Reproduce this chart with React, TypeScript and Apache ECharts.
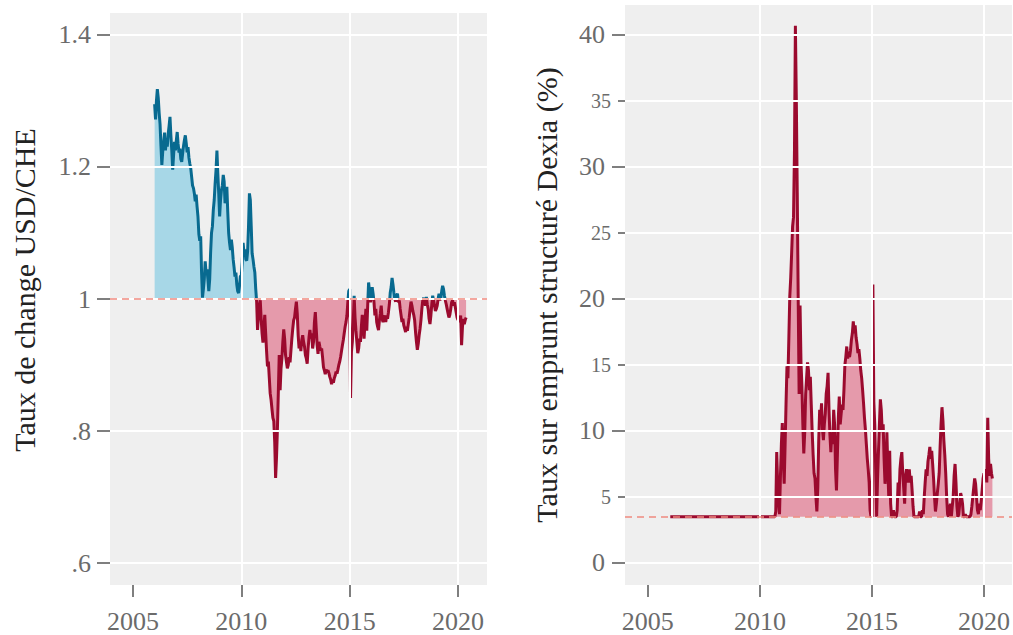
import React, { useEffect, useRef } from "react";
import * as echarts from "echarts";

// ---------- data (semi-monthly readings, 24 per year) ----------
const stepsPerYear = 24;
const fxYears = [2006, 2007, 2008, 2009, 2010, 2011, 2012, 2013, 2014, 2015, 2016, 2017, 2018, 2019, 2020];
const fx2006 = [1.295, 1.272, 1.300, 1.318, 1.305, 1.282, 1.265, 1.232, 1.203, 1.224, 1.238, 1.252, 1.225, 1.242, 1.231, 1.250, 1.262, 1.276, 1.248, 1.225, 1.196, 1.218, 1.238, 1.225];
const fx2007 = [1.240, 1.253, 1.235, 1.222, 1.228, 1.212, 1.208, 1.220, 1.232, 1.241, 1.248, 1.236, 1.222, 1.230, 1.214, 1.205, 1.198, 1.185, 1.172, 1.168, 1.160, 1.148, 1.158, 1.140];
const fx2008 = [1.125, 1.098, 1.088, 1.095, 1.040, 1.002, 1.015, 1.030, 1.057, 1.040, 1.045, 1.030, 1.012, 1.030, 1.070, 1.100, 1.110, 1.135, 1.150, 1.175, 1.195, 1.225, 1.190, 1.160];
const fx2009 = [1.125, 1.150, 1.165, 1.172, 1.188, 1.178, 1.145, 1.160, 1.170, 1.132, 1.100, 1.085, 1.074, 1.090, 1.078, 1.060, 1.048, 1.034, 1.040, 1.022, 1.012, 1.009, 1.020, 1.035];
const fx2010 = [1.035, 1.055, 1.085, 1.070, 1.075, 1.060, 1.058, 1.072, 1.110, 1.160, 1.150, 1.110, 1.069, 1.060, 1.049, 1.040, 1.015, 0.996, 0.953, 0.975, 0.990, 0.998, 0.970, 0.948];
const fx2011 = [0.934, 0.957, 0.976, 0.948, 0.921, 0.898, 0.905, 0.881, 0.857, 0.847, 0.833, 0.820, 0.815, 0.784, 0.729, 0.760, 0.803, 0.858, 0.915, 0.862, 0.895, 0.910, 0.935, 0.954];
const fx2012 = [0.940, 0.915, 0.905, 0.895, 0.900, 0.912, 0.904, 0.922, 0.940, 0.955, 0.968, 0.972, 0.985, 0.996, 0.978, 0.945, 0.925, 0.932, 0.921, 0.938, 0.945, 0.935, 0.928, 0.915];
const fx2013 = [0.910, 0.902, 0.925, 0.942, 0.953, 0.940, 0.948, 0.925, 0.935, 0.965, 0.980, 0.955, 0.930, 0.917, 0.935, 0.928, 0.922, 0.925, 0.912, 0.897, 0.892, 0.886, 0.893, 0.890];
const fx2014 = [0.892, 0.888, 0.882, 0.878, 0.871, 0.878, 0.873, 0.880, 0.884, 0.890, 0.887, 0.893, 0.900, 0.905, 0.912, 0.921, 0.930, 0.938, 0.948, 0.958, 0.965, 0.975, 0.995, 1.012];
const fx2015 = [1.015, 0.850, 0.920, 0.935, 0.965, 1.005, 0.972, 0.952, 0.935, 0.918, 0.925, 0.940, 0.935, 0.958, 0.976, 0.965, 0.940, 0.965, 0.985, 0.952, 0.990, 1.025, 1.012, 0.995];
const fx2016 = [1.005, 1.018, 1.008, 0.995, 0.975, 0.985, 0.965, 0.958, 0.953, 0.968, 0.978, 0.990, 0.970, 0.965, 0.972, 0.975, 0.965, 0.975, 0.970, 0.980, 0.992, 1.010, 1.018, 1.032];
const fx2017 = [1.022, 1.010, 1.000, 0.996, 1.005, 1.008, 0.995, 0.998, 0.985, 0.975, 0.965, 0.970, 0.960, 0.955, 0.950, 0.958, 0.952, 0.962, 0.972, 0.985, 0.996, 0.990, 0.982, 0.976];
const fx2018 = [0.968, 0.950, 0.935, 0.923, 0.932, 0.945, 0.955, 0.968, 0.985, 0.998, 1.002, 0.995, 0.990, 1.003, 0.992, 0.985, 0.970, 0.962, 0.975, 0.992, 1.005, 0.998, 0.990, 0.982];
const fx2019 = [0.985, 0.990, 1.000, 1.008, 0.998, 1.002, 1.012, 1.020, 1.015, 1.005, 0.998, 0.992, 0.985, 0.978, 0.972, 0.976, 0.985, 0.995, 0.998, 0.990, 0.995, 0.988, 0.980, 0.972];
const fx2020 = [0.968, 0.972, 0.965, 0.975, 0.930, 0.958, 0.970, 0.962, 0.968, 0.972];
const fxByYear = [fx2006, fx2007, fx2008, fx2009, fx2010, fx2011, fx2012, fx2013, fx2014, fx2015, fx2016, fx2017, fx2018, fx2019, fx2020];

const rateFlatStart = 2006;
const rateBase = 3.5;
const rateYears = [2010, 2011, 2012, 2013, 2014, 2015, 2016, 2017, 2018, 2019, 2020];
const rate2010 = [3.5, 3.5, 3.5, 3.5, 3.5, 3.5, 3.5, 3.5, 3.5, 3.5, 3.5, 3.5, 3.5, 3.5, 3.5, 3.5, 3.5, 3.9, 8.4, 6.1, 4.5, 3.7, 6.6, 9.0];
const rate2011 = [10.6, 8.0, 6.0, 9.0, 12.1, 14.9, 14.0, 17.0, 20.2, 21.6, 23.5, 25.5, 26.2, 31.1, 40.7, 35.1, 28.0, 20.1, 12.8, 19.5, 15.2, 13.4, 10.5, 8.3];
const rate2012 = [9.9, 12.8, 14.0, 15.2, 14.6, 13.1, 14.1, 12.0, 9.9, 8.2, 6.8, 6.4, 5.0, 3.9, 5.7, 9.3, 11.6, 10.8, 12.1, 10.1, 9.3, 10.5, 11.3, 12.8];
const rate2013 = [13.4, 14.4, 11.6, 9.7, 8.4, 9.9, 9.0, 11.6, 10.5, 7.1, 5.5, 8.2, 11.0, 12.6, 10.5, 11.3, 12.0, 11.6, 13.1, 15.0, 15.6, 16.4, 15.5, 15.9];
const rate2014 = [15.6, 16.1, 16.9, 17.4, 18.3, 17.4, 18.0, 17.1, 16.6, 15.9, 16.2, 15.5, 14.6, 14.0, 13.1, 12.1, 11.0, 10.1, 9.0, 7.9, 7.1, 6.1, 4.0, 3.5];
const rate2015 = [3.5, 21.1, 12.2, 10.5, 7.1, 3.5, 6.4, 8.5, 10.5, 12.4, 11.6, 9.9, 10.5, 7.9, 6.0, 7.1, 9.9, 7.1, 5.0, 8.5, 4.5, 3.5, 3.5, 4.0];
const rate2016 = [3.5, 3.5, 3.5, 4.0, 6.1, 5.0, 7.1, 7.9, 8.4, 6.8, 5.7, 4.5, 6.6, 7.1, 6.4, 6.1, 7.1, 6.1, 6.6, 5.5, 4.3, 3.5, 3.5, 3.5];
const rate2017 = [3.5, 3.5, 3.5, 3.9, 3.5, 3.5, 4.0, 3.7, 5.0, 6.1, 7.1, 6.6, 7.7, 8.2, 8.8, 7.9, 8.5, 7.5, 6.4, 5.0, 3.9, 4.5, 5.3, 6.0];
const rate2018 = [6.8, 8.8, 10.5, 11.8, 10.8, 9.3, 8.2, 6.8, 5.0, 3.7, 3.5, 4.0, 4.5, 3.5, 4.3, 5.0, 6.6, 7.5, 6.1, 4.3, 3.5, 3.7, 4.5, 5.3];
const rate2019 = [5.0, 4.5, 3.5, 3.5, 3.7, 3.5, 3.5, 3.5, 3.5, 3.5, 3.7, 4.3, 5.0, 5.7, 6.4, 6.0, 5.0, 4.0, 3.7, 4.5, 4.0, 4.7, 5.5, 6.4];
const rate2020 = [6.8, 6.4, 7.1, 6.1, 11.0, 7.9, 6.6, 7.5, 6.8, 6.4];
const rateByYear = [rate2010, rate2011, rate2012, rate2013, rate2014, rate2015, rate2016, rate2017, rate2018, rate2019, rate2020];

const fxThreshold = 1;
const yearTicks = [2005, 2010, 2015, 2020];
const yearGrid = [2010, 2015, 2020];
const fxTickValues = [0.6, 0.8, 1, 1.2, 1.4];
const fxTickLabels = [".6", ".8", "1", "1.2", "1.4"];
const rateMajorTicks = [0, 10, 20, 30, 40];
const rateMinorTicks = [5, 15, 25, 35];
const rateAllTicks = [0, 5, 10, 15, 20, 25, 30, 35, 40];

const leftTitle = "Taux de change USD/CHE";
const rightTitle = "Taux sur emprunt structuré Dexia (%)";

// ---------- styles ----------
const FONT = "'Liberation Serif', 'Times New Roman', Times, serif";
const BLUE = "#086a90";
const LIGHTBLUE = "#a7d7e7";
const RED = "#9b0a2e";
const PINK = "#e59aab";
const SALMON = "#f08a80";
const BG = "#efefef";
const TICKLABEL = "#6b6b6b";

export default function App() {
  const ref = useRef<HTMLDivElement>(null);

  useEffect(() => {
    document.body.style.margin = "0";
    if (!ref.current) return;
    const chart = echarts.init(ref.current, undefined, { renderer: "svg" });

    const fxData: number[][] = [];
    fxByYear.forEach((arr, k) => arr.forEach((v, i) => fxData.push([fxYears[k] + i / stepsPerYear, v])));
    const fxUp = fxData.map(([x, v]) => [x, Math.max(v, fxThreshold)]);
    const fxDown = fxData.map(([x, v]) => [x, Math.min(v, fxThreshold)]);

    const rateData: number[][] = [[rateFlatStart, rateBase]];
    rateByYear.forEach((arr, k) => arr.forEach((v, i) => rateData.push([rateYears[k] + i / stepsPerYear, v])));

    const labelStyle = (size: number, margin: number) => ({
      fontSize: size,
      fontFamily: FONT,
      fontWeight: "normal",
      color: TICKLABEL,
      margin,
    });

    const xAxisBase = (gridIndex: number, min: number, max: number) => ({
      type: "value",
      gridIndex,
      min,
      max,
      axisLine: { show: false, onZero: false },
      splitLine: { show: false },
      axisTick: { show: true, customValues: yearTicks, length: 12, lineStyle: { color: "#555", width: 1.5 } },
      axisLabel: {
        customValues: yearTicks,
        ...labelStyle(26, 23),
        formatter: (v: number) => String(Math.round(v)),
      },
    });

    const gridMarks = (xs: number[], ys: number[]) => ({
      silent: true,
      symbol: ["none", "none"],
      label: { show: false },
      lineStyle: { color: "#ffffff", width: 2, type: "solid" },
      data: [...xs.map((x) => ({ xAxis: x })), ...ys.map((y) => ({ yAxis: y }))],
    });

    const dashed = (y: number) => ({
      silent: true,
      symbol: ["none", "none"],
      label: { show: false },
      lineStyle: { color: SALMON, width: 1.5, type: [7, 5] },
      data: [{ yAxis: y }],
    });

    const yBase = {
      type: "value",
      axisLine: { show: false, onZero: false },
      splitLine: { show: false },
    };

    const helper = (xi: number, pt: number[], z: number, markLine: any) => ({
      type: "line",
      xAxisIndex: xi,
      yAxisIndex: xi,
      data: [pt],
      z,
      silent: true,
      symbol: "none",
      showSymbol: false,
      lineStyle: { opacity: 0 },
      markLine,
    });

    chart.setOption({
      animation: false,
      textStyle: { fontFamily: FONT },
      grid: [
        { left: 110, top: 13, width: 377, height: 572, show: true, backgroundColor: BG, borderWidth: 0 },
        { left: 625, top: 5, width: 388, height: 580, show: true, backgroundColor: BG, borderWidth: 0 },
      ],
      xAxis: [xAxisBase(0, 2003.94, 2021.34), xAxisBase(1, 2003.98, 2021.25)],
      yAxis: [
        {
          ...yBase,
          gridIndex: 0,
          min: 0.5667,
          max: 1.4333,
          axisTick: { show: true, customValues: fxTickValues, length: 13, lineStyle: { color: "#555", width: 1.5 } },
          axisLabel: {
            customValues: fxTickValues,
            ...labelStyle(26, 19),
            formatter: (v: number) => {
              let best = 0;
              fxTickValues.forEach((t, i) => {
                if (Math.abs(t - v) < Math.abs(fxTickValues[best] - v)) best = i;
              });
              return fxTickLabels[best];
            },
          },
        },
        {
          ...yBase,
          gridIndex: 1,
          min: -1.667,
          max: 42.27,
          position: "left",
          axisTick: { show: true, customValues: rateMajorTicks, length: 13, lineStyle: { color: "#555", width: 1.5 } },
          axisLabel: {
            customValues: rateMajorTicks,
            ...labelStyle(26, 20),
            formatter: (v: number) => String(Math.round(v)),
          },
        },
        {
          ...yBase,
          gridIndex: 1,
          min: -1.667,
          max: 42.27,
          position: "left",
          offset: 0,
          axisTick: { show: true, customValues: rateMinorTicks, length: 7, lineStyle: { color: "#555", width: 1.5 } },
          axisLabel: {
            customValues: rateMinorTicks,
            ...labelStyle(20, 14),
            formatter: (v: number) => String(Math.round(v)),
          },
        },
      ],
      visualMap: [
        {
          type: "piecewise",
          show: false,
          seriesIndex: 3,
          dimension: 1,
          pieces: [
            { lt: 0.5, color: RED },
            { gte: 0.5, lte: fxThreshold, color: RED },
            { gt: fxThreshold, color: BLUE },
          ],
        },
      ],
      series: [
        helper(0, fxData[0], 1, gridMarks(yearGrid, fxTickValues)),
        {
          type: "line",
          xAxisIndex: 0,
          yAxisIndex: 0,
          data: fxUp,
          z: 2,
          silent: true,
          showSymbol: false,
          symbol: "none",
          lineStyle: { opacity: 0, width: 0 },
          areaStyle: { color: LIGHTBLUE, opacity: 1, origin: fxThreshold },
        },
        {
          type: "line",
          xAxisIndex: 0,
          yAxisIndex: 0,
          data: fxDown,
          z: 2,
          silent: true,
          showSymbol: false,
          symbol: "none",
          lineStyle: { opacity: 0, width: 0 },
          areaStyle: { color: PINK, opacity: 1, origin: fxThreshold },
        },
        {
          type: "line",
          xAxisIndex: 0,
          yAxisIndex: 0,
          data: fxData,
          z: 4,
          silent: true,
          showSymbol: false,
          symbol: "none",
          lineStyle: { width: 3 },
        },
        helper(0, fxData[0], 3, dashed(fxThreshold)),
        helper(1, rateData[0], 1, gridMarks(yearGrid, rateAllTicks)),
        {
          type: "line",
          xAxisIndex: 1,
          yAxisIndex: 1,
          data: rateData,
          z: 2,
          silent: true,
          showSymbol: false,
          symbol: "none",
          lineStyle: { opacity: 0, width: 0 },
          areaStyle: { color: PINK, opacity: 1, origin: rateBase },
        },
        helper(1, rateData[0], 3, dashed(rateBase)),
        {
          type: "line",
          xAxisIndex: 1,
          yAxisIndex: 1,
          data: rateData,
          z: 4,
          silent: true,
          showSymbol: false,
          symbol: "none",
          lineStyle: { width: 3, color: RED },
          itemStyle: { color: RED },
        },
      ],
      graphic: [
        {
          type: "text",
          x: 24,
          y: 290,
          rotation: Math.PI / 2,
          style: { text: leftTitle, fontFamily: FONT, fontSize: 30, fontWeight: "normal", fill: "#222", align: "center", verticalAlign: "middle" },
        },
        {
          type: "text",
          x: 546,
          y: 295,
          rotation: Math.PI / 2,
          style: { text: rightTitle, fontFamily: FONT, fontSize: 30, fontWeight: "normal", fill: "#222", align: "center", verticalAlign: "middle" },
        },
      ],
    });

    return () => chart.dispose();
  }, []);

  return <div ref={ref} style={{ width: 1013, height: 635 }} />;
}
